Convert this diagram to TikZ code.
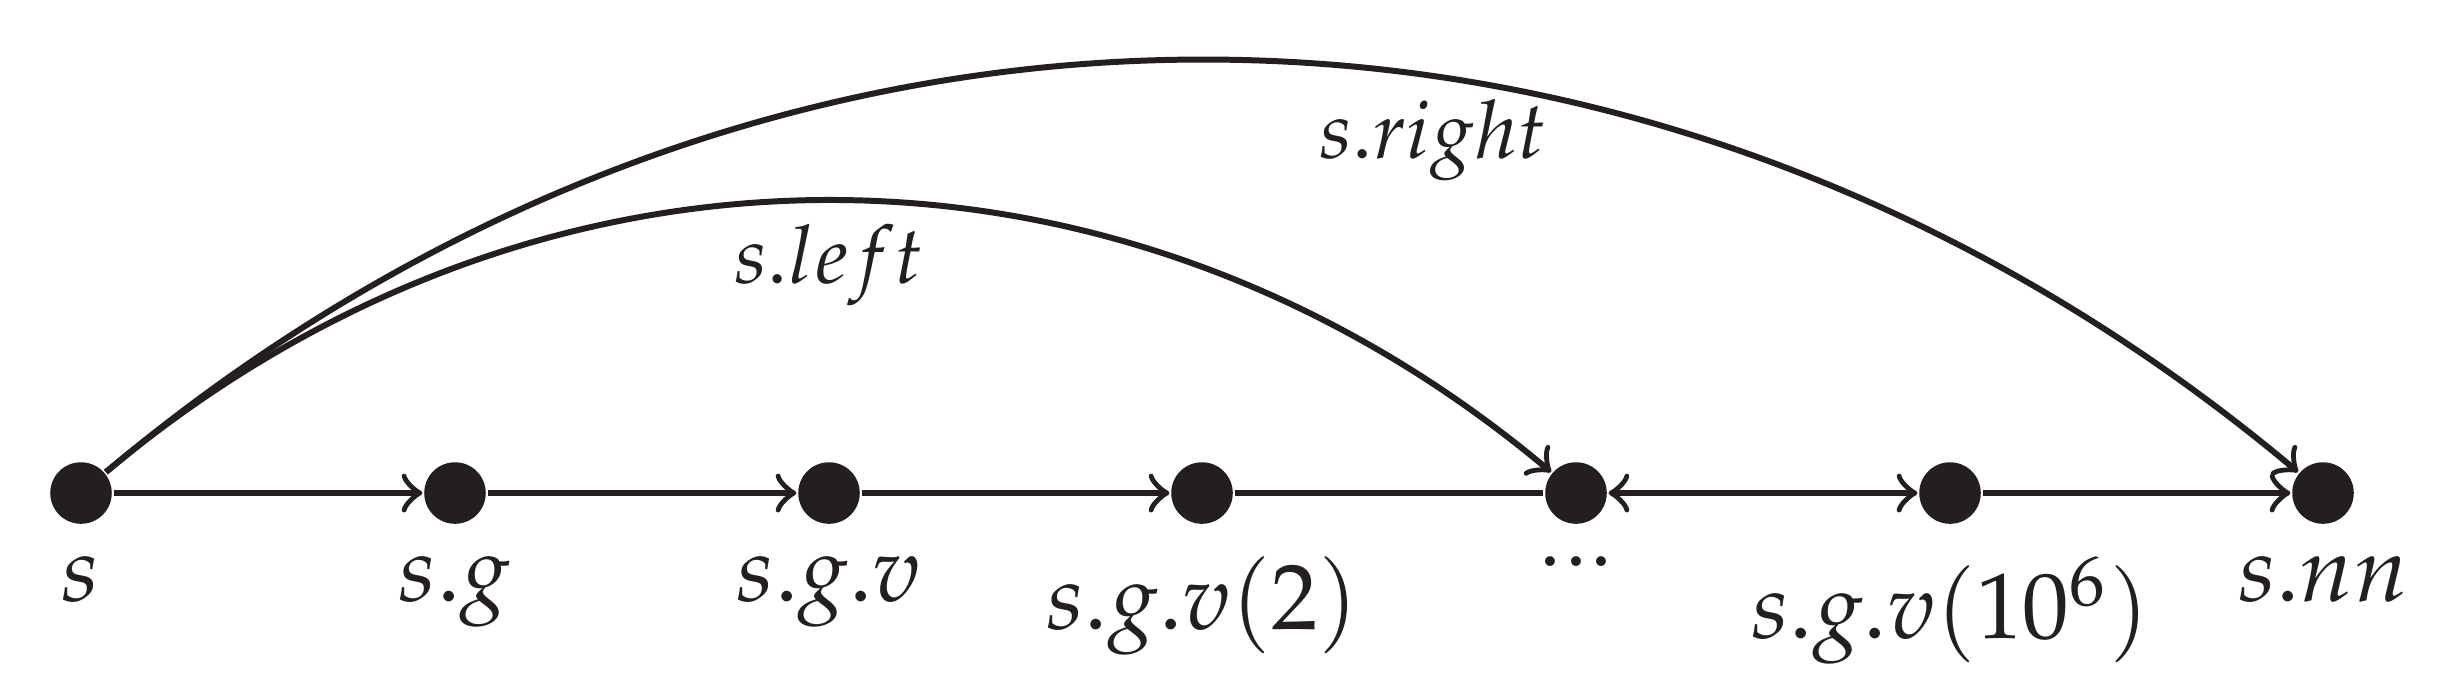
\documentclass[tikz,border=0pt]{standalone}
\usepackage{mathpazo}
\definecolor{ink}{RGB}{35,31,32}
\begin{document}
\begin{tikzpicture}[x=0.004cm,y=-0.004cm,
  font=\fontsize{10.6}{12.5}\selectfont,
  dot/.style={circle,fill=ink,draw=none,inner sep=0pt,minimum size=7pt},
  edge/.style={draw=ink,line width=0.68pt},
  curvelabel/.style={text=ink,anchor=base,inner sep=0pt,font=\fontsize{9.2}{11}\selectfont},
  every label/.style={text=ink}]
\useasboundingbox (0,0) rectangle (2453,690);
\node[dot,label=below:{$s$}] (s) at (81,493) {};
\node[dot,label=below:{$s.g$}] (sg) at (455,493) {};
\node[dot,label=below:{$s.g.v$}] (sgv) at (829,493) {};
\node[dot,label=below:{$s.g.v(2)$}] (sgv2) at (1202,493) {};
\node[dot,label=below:{...}] (dd) at (1576,493) {};
\node[dot,label=below:{$s.g.v(10^6)$}] (sgv6) at (1950,493) {};
\node[dot,label=below:{$s.nn$}] (snn) at (2323,493) {};
\draw[edge,->] (s) -- (sg);
\draw[edge,->] (sg) -- (sgv);
\draw[edge,->] (sgv) -- (sgv2);
\draw[edge] (sgv2) -- (dd);
\draw[edge,<->] (dd) -- (sgv6);
\draw[edge,->] (sgv6) -- (snn);
\draw[edge,->] (s) to[bend left=40] (dd);
\draw[edge,->] (s) to[bend left=40] (snn);
\node[curvelabel] (lleft) at (829,283) {$s.left$};
\node[curvelabel] (lright) at (1433,158) {$s.right$};
\end{tikzpicture}
\end{document}
